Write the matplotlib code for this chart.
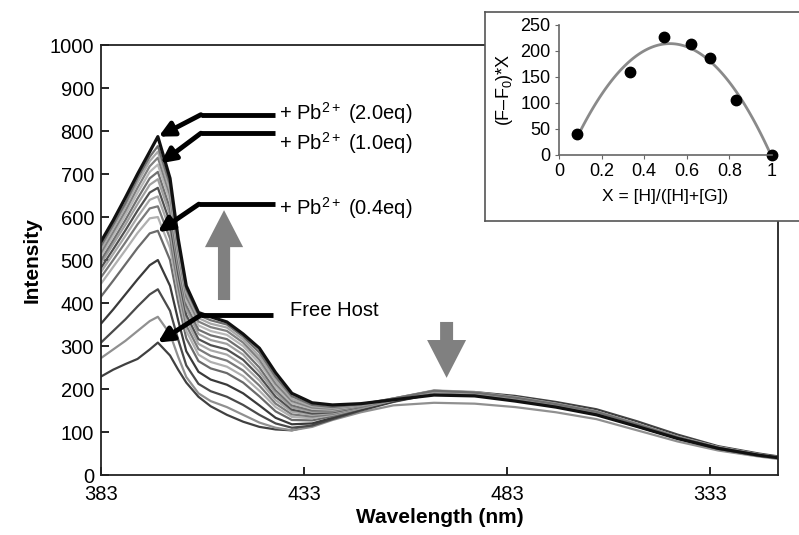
import numpy as np
import matplotlib
matplotlib.use("Agg")
import matplotlib.pyplot as plt
from matplotlib.patches import FancyArrow

plt.rcParams['font.family'] = ['Liberation Sans', 'DejaVu Sans']
plt.rcParams['mathtext.fontset'] = 'custom'
plt.rcParams['mathtext.rm'] = 'Liberation Sans'
plt.rcParams['mathtext.it'] = 'Liberation Sans:italic'

# wavelength grid (nm)
wl = [383, 386, 389, 392, 395, 397, 400, 402, 404, 407, 410, 414, 418, 422, 426,
      430, 435, 440, 447, 455, 465, 475, 485, 495, 505, 515, 525, 535, 545, 550]

# titration spectra, top (2.0 eq Pb2+) to bottom (free host)
spec_20eq = [543, 592, 645, 700, 752, 787, 690, 550, 440, 378, 368, 356, 328, 295, 238, 190, 168, 163, 166, 175, 186, 184, 172, 158, 140, 113, 85, 62, 46, 40]
spec_02 = [533, 582, 632, 690, 740, 765, 675, 540, 432, 372, 360, 350, 322, 285, 228, 183, 163, 158, 165, 178, 196, 192, 180, 165, 147, 118, 88, 64, 47, 41]
spec_03 = [525, 574, 624, 680, 730, 752, 662, 530, 425, 365, 352, 343, 315, 276, 220, 177, 160, 156, 164, 178, 197, 193, 181, 166, 148, 119, 89, 65, 48, 41]
spec_04 = [517, 565, 614, 668, 718, 738, 650, 520, 415, 357, 344, 335, 308, 268, 212, 172, 157, 154, 163, 178, 196, 192, 181, 166, 148, 119, 89, 65, 48, 41]
spec_05 = [509, 556, 604, 656, 705, 722, 636, 508, 405, 348, 335, 326, 300, 260, 205, 167, 154, 152, 162, 177, 195, 191, 180, 165, 147, 118, 88, 64, 47, 41]
spec_06 = [500, 546, 593, 643, 690, 705, 620, 495, 395, 338, 325, 316, 290, 250, 197, 162, 150, 150, 161, 177, 195, 191, 180, 165, 147, 118, 88, 64, 47, 41]
spec_07 = [492, 537, 582, 630, 675, 688, 605, 483, 385, 328, 314, 305, 280, 240, 190, 157, 147, 148, 160, 176, 194, 190, 179, 164, 146, 117, 88, 64, 47, 41]
spec_08 = [482, 525, 569, 615, 657, 668, 587, 468, 372, 316, 302, 292, 268, 230, 182, 152, 143, 146, 159, 176, 194, 190, 179, 164, 146, 117, 88, 64, 47, 41]
spec_09 = [472, 514, 556, 600, 640, 648, 570, 455, 360, 305, 290, 280, 256, 220, 174, 147, 140, 144, 158, 175, 193, 189, 178, 163, 145, 116, 87, 63, 46, 40]
spec_10 = [460, 500, 541, 583, 620, 625, 550, 440, 348, 293, 277, 266, 243, 208, 166, 141, 136, 142, 157, 175, 193, 189, 178, 163, 145, 116, 87, 63, 46, 40]
spec_11 = [445, 484, 523, 563, 597, 600, 528, 423, 335, 280, 263, 252, 230, 196, 158, 135, 132, 140, 156, 174, 192, 188, 177, 162, 144, 115, 86, 62, 46, 40]
spec_04eq = [415, 452, 490, 528, 562, 568, 500, 402, 318, 265, 248, 237, 215, 183, 148, 128, 127, 137, 155, 173, 191, 187, 176, 161, 143, 115, 86, 62, 46, 40]
spec_13 = [352, 385, 420, 455, 488, 500, 440, 360, 288, 240, 222, 210, 190, 162, 133, 118, 120, 133, 152, 171, 190, 186, 175, 160, 142, 114, 85, 62, 46, 40]
spec_14 = [308, 335, 362, 392, 420, 432, 382, 315, 255, 212, 195, 182, 163, 140, 120, 110, 115, 130, 150, 170, 189, 185, 174, 159, 141, 113, 85, 61, 45, 40]
spec_15 = [272, 292, 312, 335, 358, 368, 328, 275, 228, 190, 172, 158, 140, 122, 110, 104, 112, 128, 146, 162, 168, 166, 158, 146, 130, 104, 78, 57, 43, 37]
spec_host = [229, 245, 258, 270, 292, 308, 278, 245, 215, 182, 160, 140, 124, 112, 106, 104, 115, 132, 152, 172, 194, 193, 184, 170, 153, 125, 94, 67, 50, 43]

spectra = [spec_host, spec_15, spec_14, spec_13, spec_04eq, spec_11, spec_10, spec_09,
           spec_08, spec_07, spec_06, spec_05, spec_04, spec_03, spec_02, spec_20eq]
colors = ['#404040', '#909090', '#4a4a4a', '#3a3a3a', '#6a6a6a', '#b0b0b0', '#7a7a7a', '#a8a8a8',
          '#505050', '#a0a0a0', '#707070', '#b8b8b8', '#808080', '#a8a8a8', '#6e6e6e', '#111111']

# Job's plot inset
job_x = [0.086, 0.332, 0.493, 0.62, 0.709, 0.83, 1.0]
job_y = [40, 160, 226, 214, 186, 106, 0]

xticks = [383, 433, 483, 533]
xticklabels = ['383', '433', '483', '333']

fig = plt.figure(figsize=(7.99, 5.35), dpi=100)
ax = fig.add_axes([0.1264, 0.1121, 0.8473, 0.8037])

for s, c in zip(spectra, colors):
    lw = 2.3 if c == '#111111' else 1.6
    ax.plot(wl, s, color=c, lw=lw, solid_joinstyle='round', solid_capstyle='round')

ax.set_xlim(383, 549.7)
ax.set_ylim(0, 1000)
ax.set_xticks(xticks)
ax.set_xticklabels(xticklabels)
ax.set_yticks(range(0, 1001, 100))
ax.tick_params(direction='in', length=6, width=1.2, labelsize=14.5, pad=5)
ax.tick_params(axis='x', pad=7)
for sp in ax.spines.values():
    sp.set_linewidth(1.3)
    sp.set_color('#222222')
ax.set_xlabel('Wavelength (nm)', fontsize=15, fontweight='bold', labelpad=3)
ax.set_ylabel('Intensity', fontsize=15, fontweight='bold', labelpad=6)

# leader lines with arrowheads
labels = [r'+ Pb$^{2+}$ (2.0eq)', r'+ Pb$^{2+}$ (1.0eq)', r'+ Pb$^{2+}$ (0.4eq)', 'Free Host']
tips = [(397.2, 787), (397.7, 725), (397.0, 565), (397.0, 308)]
elbows = [(407.6, 838), (407.6, 795), (407.1, 630), (407.6, 372)]
line_end = [425.8, 425.8, 425.8, 425.3]
text_x = [426.8, 426.8, 426.8, 429.5]
text_y = [843, 773, 622, 382]
for lab, tip, elb, xe, tx, ty in zip(labels, tips, elbows, line_end, text_x, text_y):
    ax.plot([elb[0], xe], [elb[1], elb[1]], color='black', lw=3.5, solid_capstyle='butt')
    ax.annotate('', xy=tip, xytext=elb,
                arrowprops=dict(arrowstyle='-|>', lw=3.5, color='black', mutation_scale=22,
                                shrinkA=0, shrinkB=0))
    ax.text(tx, ty, lab, fontsize=14.5, va='center', ha='left')

# big grey arrows
ax.add_patch(FancyArrow(413.3, 407, 0, 209, width=3.0, head_width=9.4, head_length=86,
                        length_includes_head=True, color='#808080', lw=0))
ax.add_patch(FancyArrow(468.1, 356, 0, -130, width=3.2, head_width=9.6, head_length=88,
                        length_includes_head=True, color='#808080', lw=0))

# inset frame
box = fig.add_axes([0.607, 0.587, 0.45, 0.391])
box.set_xticks([])
box.set_yticks([])
for sp in box.spines.values():
    sp.set_color('#555555')
    sp.set_linewidth(1.2)

ins = fig.add_axes([0.6996, 0.7103, 0.2666, 0.243])
ins.patch.set_alpha(0)
fit = np.polyfit(job_x, job_y, 2)
xf = np.linspace(0.1, 1.0, 100)
ins.plot(xf, np.polyval(fit, xf), color='#8a8a8a', lw=2)
ins.plot(job_x, job_y, 'o', color='black', ms=7.5, clip_on=False)
ins.set_xlim(0, 1)
ins.set_ylim(0, 250)
ins.set_xticks([0, 0.2, 0.4, 0.6, 0.8, 1])
ins.set_xticklabels(['0', '0.2', '0.4', '0.6', '0.8', '1'])
ins.set_yticks([0, 50, 100, 150, 200, 250])
for side in ['top', 'right']:
    ins.spines[side].set_visible(False)
for side in ['left', 'bottom']:
    ins.spines[side].set_color('#666666')
    ins.spines[side].set_linewidth(1.2)
ins.tick_params(labelsize=13, length=3, color='#666666', pad=3)
ins.set_xlabel('X = [H]/([H]+[G])', fontsize=12.5, labelpad=6)
ins.set_ylabel('(F–F$_0$)*X', fontsize=13, labelpad=4)

fig.savefig('out.png', dpi=100)
